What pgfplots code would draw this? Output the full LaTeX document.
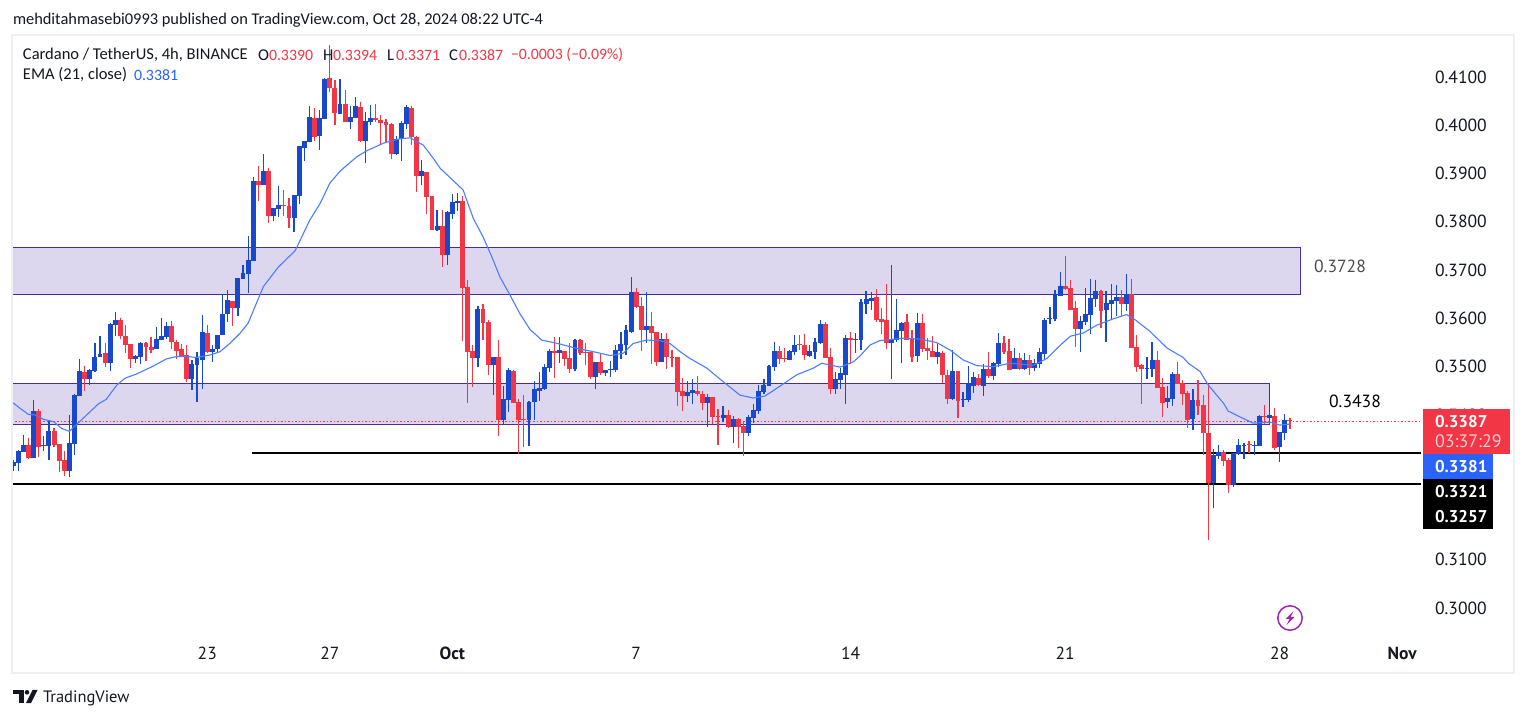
\documentclass[border=0pt]{standalone}
\usepackage{fontspec}
\usepackage{pgfplots}
\usepackage{pgfplotstable}
\pgfplotsset{compat=1.18}
\setmainfont{PT Sans}
\newfontfamily\hdr{Carlito}
\definecolor{upc}{HTML}{1848CC}
\definecolor{dnc}{HTML}{F23645}
\definecolor{emac}{HTML}{4A7DFF}
\definecolor{boxf}{HTML}{DCD7EE}
\definecolor{boxl}{HTML}{4A2BA0}
\definecolor{txt}{HTML}{131722}
\definecolor{frame}{HTML}{EFF0F6}
\definecolor{tagblue}{HTML}{2962FF}
\definecolor{purp}{HTML}{9C27B0}
\pgfplotstableread{
i o h l c
-1 0.3295 0.3306 0.3284 0.3303
0 0.3301 0.3327 0.3284 0.3325
1 0.3324 0.3358 0.3324 0.3338
2 0.3338 0.3352 0.3309 0.3310
3 0.3311 0.3431 0.3311 0.3408
4 0.3408 0.3412 0.3313 0.3334
5 0.3336 0.3356 0.3325 0.3338
6 0.3336 0.3387 0.3307 0.3367
7 0.3367 0.3372 0.3334 0.3338
8 0.3340 0.3340 0.3282 0.3305
9 0.3307 0.3325 0.3274 0.3284
10 0.3284 0.3400 0.3272 0.3342
11 0.3340 0.3443 0.3317 0.3441
12 0.3440 0.3516 0.3440 0.3491
13 0.3489 0.3501 0.3450 0.3474
14 0.3474 0.3495 0.3462 0.3493
15 0.3491 0.3548 0.3488 0.3520
16 0.3519 0.3563 0.3519 0.3526
17 0.3528 0.3548 0.3500 0.3508
18 0.3508 0.3591 0.3490 0.3588
19 0.3587 0.3613 0.3563 0.3597
20 0.3597 0.3601 0.3557 0.3563
21 0.3563 0.3586 0.3529 0.3545
22 0.3547 0.3547 0.3497 0.3516
23 0.3516 0.3524 0.3508 0.3522
24 0.3521 0.3551 0.3505 0.3549
25 0.3549 0.3551 0.3512 0.3541
26 0.3541 0.3561 0.3529 0.3535
27 0.3537 0.3582 0.3537 0.3557
28 0.3555 0.3601 0.3555 0.3563
29 0.3562 0.3593 0.3558 0.3584
30 0.3584 0.3595 0.3537 0.3551
31 0.3551 0.3555 0.3516 0.3533
32 0.3537 0.3547 0.3519 0.3521
33 0.3524 0.3545 0.3469 0.3474
34 0.3474 0.3514 0.3452 0.3505
35 0.3503 0.3530 0.3427 0.3518
36 0.3514 0.3607 0.3454 0.3572
37 0.3570 0.3586 0.3528 0.3530
38 0.3530 0.3545 0.3510 0.3537
39 0.3536 0.3566 0.3528 0.3566
40 0.3565 0.3650 0.3565 0.3610
41 0.3609 0.3659 0.3593 0.3638
42 0.3636 0.3636 0.3584 0.3621
43 0.3621 0.3684 0.3605 0.3684
44 0.3682 0.3711 0.3682 0.3694
45 0.3692 0.3771 0.3653 0.3721
46 0.3719 0.3892 0.3719 0.3885
47 0.3885 0.3916 0.3843 0.3876
48 0.3876 0.3940 0.3876 0.3905
49 0.3905 0.3911 0.3798 0.3812
50 0.3812 0.3829 0.3802 0.3829
51 0.3827 0.3874 0.3809 0.3835
52 0.3835 0.3866 0.3812 0.3833
53 0.3833 0.3849 0.3787 0.3808
54 0.3808 0.3856 0.3779 0.3856
55 0.3853 0.3957 0.3837 0.3957
56 0.3953 0.3967 0.3926 0.3967
57 0.3965 0.4040 0.3965 0.4017
58 0.4015 0.4036 0.3967 0.3976
59 0.3978 0.4032 0.3949 0.4015
60 0.4013 0.4099 0.4013 0.4096
61 0.4098 0.4166 0.4069 0.4077
62 0.4077 0.4094 0.4000 0.4025
63 0.4023 0.4096 0.4023 0.4044
64 0.4044 0.4073 0.4007 0.4007
65 0.4007 0.4040 0.3992 0.4017
66 0.4015 0.4059 0.4015 0.4040
67 0.4038 0.4048 0.3965 0.3967
68 0.3967 0.4028 0.3922 0.4009
69 0.4007 0.4042 0.4000 0.4015
70 0.4015 0.4044 0.4007 0.4011
71 0.4011 0.4021 0.3959 0.4005
72 0.4007 0.4012 0.3963 0.4000
73 0.4003 0.4004 0.3930 0.3941
74 0.3941 0.3978 0.3938 0.3972
75 0.3972 0.4009 0.3926 0.4005
76 0.4003 0.4042 0.3992 0.4038
77 0.4036 0.4040 0.3959 0.3976
78 0.3976 0.3978 0.3862 0.3895
79 0.3895 0.3928 0.3876 0.3905
80 0.3903 0.3904 0.3816 0.3851
81 0.3853 0.3853 0.3783 0.3783
82 0.3783 0.3824 0.3781 0.3791
83 0.3791 0.3825 0.3706 0.3731
84 0.3731 0.3822 0.3711 0.3820
85 0.3816 0.3858 0.3806 0.3841
86 0.3839 0.3860 0.3822 0.3843
87 0.3843 0.3854 0.3553 0.3663
88 0.3665 0.3680 0.3425 0.3530
89 0.3532 0.3545 0.3458 0.3518
90 0.3518 0.3626 0.3499 0.3619
91 0.3619 0.3630 0.3555 0.3590
92 0.3592 0.3597 0.3483 0.3503
93 0.3503 0.3520 0.3441 0.3520
94 0.3520 0.3555 0.3356 0.3389
95 0.3389 0.3459 0.3381 0.3433
96 0.3431 0.3497 0.3406 0.3493
97 0.3491 0.3493 0.3425 0.3425
98 0.3427 0.3433 0.3319 0.3389
99 0.3391 0.3441 0.3334 0.3389
100 0.3389 0.3429 0.3336 0.3427
101 0.3427 0.3470 0.3389 0.3454
102 0.3450 0.3489 0.3429 0.3456
103 0.3454 0.3505 0.3452 0.3499
104 0.3497 0.3537 0.3489 0.3532
105 0.3532 0.3561 0.3476 0.3528
106 0.3528 0.3561 0.3508 0.3534
107 0.3532 0.3532 0.3501 0.3516
108 0.3518 0.3549 0.3487 0.3495
109 0.3495 0.3557 0.3491 0.3555
110 0.3555 0.3557 0.3524 0.3528
111 0.3530 0.3549 0.3503 0.3528
112 0.3530 0.3530 0.3474 0.3479
113 0.3479 0.3510 0.3454 0.3510
114 0.3510 0.3527 0.3483 0.3487
115 0.3487 0.3493 0.3481 0.3493
116 0.3493 0.3512 0.3479 0.3495
117 0.3493 0.3545 0.3489 0.3534
118 0.3532 0.3572 0.3516 0.3547
119 0.3545 0.3586 0.3524 0.3576
120 0.3572 0.3686 0.3570 0.3655
121 0.3655 0.3663 0.3622 0.3624
122 0.3626 0.3644 0.3532 0.3576
123 0.3576 0.3655 0.3549 0.3584
124 0.3584 0.3613 0.3506 0.3570
125 0.3572 0.3572 0.3501 0.3510
126 0.3510 0.3570 0.3510 0.3557
127 0.3557 0.3570 0.3495 0.3520
128 0.3520 0.3535 0.3499 0.3519
129 0.3520 0.3520 0.3419 0.3448
130 0.3450 0.3477 0.3408 0.3439
131 0.3439 0.3470 0.3427 0.3448
132 0.3445 0.3474 0.3423 0.3452
133 0.3450 0.3481 0.3439 0.3443
134 0.3443 0.3450 0.3410 0.3425
135 0.3425 0.3443 0.3375 0.3437
136 0.3437 0.3437 0.3381 0.3396
137 0.3398 0.3412 0.3338 0.3396
138 0.3394 0.3419 0.3385 0.3400
139 0.3400 0.3410 0.3373 0.3375
140 0.3375 0.3398 0.3342 0.3392
141 0.3392 0.3394 0.3331 0.3375
142 0.3377 0.3387 0.3315 0.3363
143 0.3363 0.3400 0.3356 0.3396
144 0.3394 0.3423 0.3383 0.3410
145 0.3408 0.3462 0.3402 0.3450
146 0.3448 0.3474 0.3443 0.3462
147 0.3460 0.3503 0.3460 0.3501
148 0.3499 0.3551 0.3491 0.3532
149 0.3532 0.3543 0.3506 0.3516
150 0.3518 0.3539 0.3510 0.3516
151 0.3514 0.3535 0.3514 0.3532
152 0.3530 0.3566 0.3524 0.3545
153 0.3547 0.3566 0.3535 0.3545
154 0.3545 0.3568 0.3514 0.3524
155 0.3522 0.3545 0.3520 0.3532
156 0.3530 0.3559 0.3516 0.3551
157 0.3549 0.3597 0.3547 0.3588
158 0.3588 0.3593 0.3518 0.3518
159 0.3520 0.3539 0.3443 0.3454
160 0.3454 0.3489 0.3443 0.3474
161 0.3472 0.3497 0.3454 0.3487
162 0.3483 0.3566 0.3423 0.3559
163 0.3559 0.3572 0.3506 0.3555
164 0.3555 0.3570 0.3528 0.3557
165 0.3555 0.3640 0.3534 0.3634
166 0.3630 0.3657 0.3609 0.3640
167 0.3636 0.3655 0.3617 0.3642
168 0.3644 0.3661 0.3593 0.3597
169 0.3599 0.3622 0.3568 0.3593
170 0.3597 0.3671 0.3537 0.3549
171 0.3549 0.3711 0.3474 0.3557
172 0.3555 0.3640 0.3551 0.3576
173 0.3574 0.3592 0.3508 0.3590
174 0.3592 0.3609 0.3555 0.3555
175 0.3557 0.3576 0.3510 0.3520
176 0.3522 0.3611 0.3510 0.3590
177 0.3590 0.3609 0.3530 0.3537
178 0.3539 0.3559 0.3514 0.3532
179 0.3532 0.3563 0.3520 0.3520
180 0.3520 0.3549 0.3505 0.3530
181 0.3528 0.3532 0.3466 0.3483
182 0.3483 0.3493 0.3423 0.3433
183 0.3433 0.3534 0.3431 0.3491
184 0.3491 0.3491 0.3394 0.3429
185 0.3431 0.3447 0.3416 0.3433
186 0.3431 0.3501 0.3427 0.3465
187 0.3460 0.3489 0.3445 0.3479
188 0.3476 0.3485 0.3460 0.3462
189 0.3460 0.3505 0.3439 0.3495
190 0.3495 0.3530 0.3476 0.3481
191 0.3481 0.3510 0.3472 0.3508
192 0.3505 0.3570 0.3499 0.3549
193 0.3549 0.3563 0.3526 0.3530
194 0.3532 0.3557 0.3493 0.3493
195 0.3495 0.3539 0.3495 0.3518
196 0.3518 0.3528 0.3493 0.3495
197 0.3495 0.3528 0.3493 0.3514
198 0.3514 0.3524 0.3483 0.3497
199 0.3497 0.3516 0.3491 0.3508
200 0.3505 0.3539 0.3497 0.3530
201 0.3526 0.3601 0.3516 0.3597
202 0.3599 0.3624 0.3588 0.3601
203 0.3599 0.3659 0.3595 0.3651
204 0.3646 0.3696 0.3646 0.3667
205 0.3667 0.3729 0.3659 0.3661
206 0.3663 0.3680 0.3617 0.3617
207 0.3622 0.3636 0.3541 0.3578
208 0.3578 0.3605 0.3530 0.3595
209 0.3593 0.3663 0.3586 0.3609
210 0.3607 0.3682 0.3568 0.3642
211 0.3640 0.3680 0.3624 0.3657
212 0.3657 0.3659 0.3580 0.3615
213 0.3617 0.3657 0.3551 0.3632
214 0.3630 0.3671 0.3599 0.3638
215 0.3636 0.3669 0.3605 0.3644
216 0.3644 0.3659 0.3605 0.3630
217 0.3630 0.3692 0.3615 0.3650
218 0.3650 0.3682 0.3539 0.3539
219 0.3541 0.3566 0.3489 0.3499
220 0.3503 0.3506 0.3423 0.3495
221 0.3496 0.3520 0.3474 0.3497
222 0.3495 0.3551 0.3479 0.3514
223 0.3514 0.3532 0.3456 0.3456
224 0.3458 0.3477 0.3396 0.3425
225 0.3427 0.3460 0.3414 0.3435
226 0.3433 0.3489 0.3419 0.3485
227 0.3485 0.3510 0.3464 0.3464
228 0.3466 0.3472 0.3421 0.3443
229 0.3445 0.3450 0.3373 0.3389
230 0.3392 0.3454 0.3369 0.3431
231 0.3431 0.3472 0.3400 0.3419
232 0.3421 0.3441 0.3317 0.3363
233 0.3363 0.3464 0.3141 0.3259
234 0.3259 0.3329 0.3207 0.3317
235 0.3315 0.3338 0.3309 0.3323
236 0.3323 0.3327 0.3294 0.3305
237 0.3307 0.3311 0.3238 0.3255
238 0.3255 0.3321 0.3251 0.3321
239 0.3319 0.3350 0.3317 0.3338
240 0.3336 0.3342 0.3309 0.3338
241 0.3340 0.3346 0.3321 0.3338
242 0.3336 0.3346 0.3317 0.3338
243 0.3336 0.3400 0.3336 0.3398
244 0.3398 0.3421 0.3381 0.3396
245 0.3394 0.3421 0.3379 0.3400
246 0.3398 0.3414 0.3327 0.3331
247 0.3333 0.3365 0.3302 0.3365
248 0.3363 0.3402 0.3348 0.3389
249 0.3390 0.3394 0.3371 0.3387
}\candles
\pgfplotstableread{
i v
-1 0.3425
0.3 0.3414
2 0.3401
3.3 0.3400
4.9 0.3391
6.9 0.3386
8.5 0.3372
10 0.3366
11.7 0.3383
13.7 0.3403
15.7 0.3423
17.2 0.3432
19.3 0.3462
20.9 0.3476
23.2 0.3485
26.4 0.3501
29 0.3516
31 0.3521
33 0.3521
34.9 0.3519
37.5 0.3524
39.5 0.3531
41.4 0.3548
43.4 0.3569
45 0.3590
48 0.3666
50.9 0.3706
54.2 0.3740
57.1 0.3804
59.1 0.3838
61 0.3880
63 0.3905
66.3 0.3935
68.2 0.3947
71.5 0.3963
74.7 0.3972
76.7 0.3974
79.3 0.3959
81.3 0.3931
82.6 0.3911
87.1 0.3866
89.1 0.3807
91 0.3769
92.7 0.3728
94.3 0.3686
96.3 0.3648
98.2 0.3610
100.2 0.3577
102.5 0.3555
106 0.3547
109.3 0.3538
112.6 0.3531
115.9 0.3523
118.5 0.3528
120.4 0.3548
123 0.3555
125.7 0.3554
127.6 0.3548
129.6 0.3531
131.5 0.3517
134.8 0.3497
138 0.3469
141.3 0.3441
143.9 0.3435
146.2 0.3439
148.5 0.3455
152.4 0.3483
155.7 0.3497
157.3 0.3507
160.9 0.3499
163.5 0.3510
164.8 0.3522
166.8 0.3545
168.7 0.3554
173.3 0.3559
176.6 0.3557
179.8 0.3550
182.5 0.3534
185 0.3514
187.7 0.3502
191 0.3500
194.2 0.3507
198.8 0.3503
201.4 0.3517
204.1 0.3545
206 0.3563
208.6 0.3570
211.2 0.3586
214.4 0.3599
217 0.3608
218.7 0.3597
221.6 0.3573
225 0.3538
228.1 0.3519
229.1 0.3507
231.4 0.3490
233 0.3462
236 0.3424
236.9 0.3408
239.2 0.3396
241.8 0.3383
245.1 0.3385
247 0.3379
249 0.3381
}\ema
\begin{document}
\begin{tikzpicture}
\useasboundingbox (0,0) rectangle (1527pt,718pt);
\fill[white] (0,0) rectangle (1527pt,718pt);
\begin{scope}[x=1pt,y=-1pt,yshift=718pt]
\draw[frame,line width=2pt] (12,35) rectangle (1514,673);
\end{scope}
\begin{axis}[
  at={(13pt,46pt)},anchor=south west,
  scale only axis,width=1500pt,height=636pt,
  xmin=-1.038,xmax=292.68,ymin=0.28674,ymax=0.41850,
  axis line style={draw=none},
  major tick length=0pt,
  xtick={37,61,85,121,163,205,247,271},
  xticklabels={23,27,\textbf{Oct},7,14,21,28,\textbf{Nov}},
  xticklabel style={font=\fontsize{17.5}{18}\selectfont,text=txt,anchor=center,yshift=19pt},
  ytick={0.30,0.31,0.34,0.35,0.36,0.37,0.38,0.39,0.40,0.41},
  yticklabel pos=right,
  scaled y ticks=false,
  yticklabel style={font=\fontsize{17.6}{18}\selectfont,text=txt,anchor=east,xshift=-26pt,inner sep=0pt,
    /pgf/number format/.cd,fixed,fixed zerofill,precision=4,assume math mode=true},
]
% supply zones
\addplot[fill=boxf,draw=boxl,line width=1pt] coordinates {(-2,0.3650)(251.16,0.3650)(251.16,0.3747)(-2,0.3747)} -- cycle;
\addplot[fill=boxf,draw=boxl,line width=1pt] coordinates {(-2,0.3380)(244.9,0.3380)(244.9,0.34655)(-2,0.34655)} -- cycle;
% levels
\addplot[black,line width=2pt] coordinates {(45.76,0.3321)(274.66,0.3321)};
\addplot[black,line width=2pt] coordinates {(-2,0.3257)(274.66,0.3257)};
\addplot[dnc,line width=1pt,dash pattern=on 1.5pt off 2pt] coordinates {(-2,0.3387)(274.66,0.3387)};
% wicks
\addplot[draw=none,forget plot,error bars/.cd,y dir=plus,y explicit,error mark=none,
  error bar style={upc,line width=1.2pt,line cap=butt}]
  table[x=i,y expr={\thisrow{c}>=\thisrow{o}?\thisrow{l}:nan},y error plus expr={\thisrow{h}-\thisrow{l}}] {\candles};
\addplot[draw=none,forget plot,error bars/.cd,y dir=plus,y explicit,error mark=none,
  error bar style={dnc,line width=1.2pt,line cap=butt}]
  table[x=i,y expr={\thisrow{c}<\thisrow{o}?\thisrow{l}:nan},y error plus expr={\thisrow{h}-\thisrow{l}}] {\candles};
% bodies
\addplot[draw=none,forget plot,error bars/.cd,y dir=plus,y explicit,error mark=none,
  error bar style={upc,line width=4.9pt,line cap=butt}]
  table[x=i,y expr={\thisrow{c}>=\thisrow{o}?\thisrow{o}:nan},y error plus expr={\thisrow{c}-\thisrow{o}}] {\candles};
\addplot[draw=none,forget plot,error bars/.cd,y dir=plus,y explicit,error mark=none,
  error bar style={dnc,line width=4.9pt,line cap=butt}]
  table[x=i,y expr={\thisrow{c}<\thisrow{o}?\thisrow{c}:nan},y error plus expr={\thisrow{o}-\thisrow{c}}] {\candles};
% EMA
\addplot[emac,line width=1.1pt,line join=round] table[x=i,y=v] {\ema};
\end{axis}
\begin{scope}[x=1pt,y=-1pt,yshift=718pt,every node/.style={inner sep=0pt,outer sep=0pt}]
\def\sz{\fontsize{15.8}{18}\selectfont}
\def\sl{\fontsize{16.5}{18}\selectfont}
\node[anchor=west,text=txt,font=\hdr\fontsize{16.4}{18}\selectfont] at (13,20) {mehditahmasebi0993 published on TradingView.com, Oct 28, 2024 08:22 UTC-4};
\node[anchor=west,text=txt,font=\hdr\sl] at (23,55) {Cardano / TetherUS, 4h, BINANCE};
\node[anchor=west,text=txt,font=\hdr\sl] at (258,55) {O};
\node[anchor=west,text=dnc,font=\hdr\sz] at (269,55) {0.3390};
\node[anchor=west,text=txt,font=\hdr\sl] at (323,55) {H};
\node[anchor=west,text=dnc,font=\hdr\sz] at (333,55) {0.3394};
\node[anchor=west,text=txt,font=\hdr\sl] at (387,55) {L};
\node[anchor=west,text=dnc,font=\hdr\sz] at (396,55) {0.3371};
\node[anchor=west,text=txt,font=\hdr\sl] at (449,55) {C};
\node[anchor=west,text=dnc,font=\hdr\sz] at (459,55) {0.3387};
\node[anchor=west,text=dnc,font=\hdr\sz] at (511,55) {−0.0003 (−0.09\%)};
\node[anchor=west,text=txt,font=\hdr\sl] at (23,75) {EMA (21, close)};
\node[anchor=west,text=tagblue,font=\hdr\sz] at (134,75) {0.3381};
% annotations
\node[text=black!70,font=\fontsize{17.6}{18}\selectfont] at (1340,266) {0.3728};
\node[text=black,font=\fontsize{17.6}{18}\selectfont] at (1355,401) {0.3438};
% price tags
\fill[black] (1423,479) rectangle (1493,529);
\fill[tagblue] (1423,454) rectangle (1493,479);
\fill[dnc] (1423,409) rectangle (1510,454);
\node[anchor=west,text=white,font=\bfseries\fontsize{17}{18}\selectfont] at (1435,422) {0.3387};
\node[anchor=west,text=white!75!dnc,font=\fontsize{18}{18}\selectfont] at (1435,441) {03:37:29};
\node[anchor=west,text=white,font=\bfseries\fontsize{17}{18}\selectfont] at (1435,467) {0.3381};
\node[anchor=west,text=white,font=\bfseries\fontsize{17}{18}\selectfont] at (1435,492) {0.3321};
\node[anchor=west,text=white,font=\bfseries\fontsize{17}{18}\selectfont] at (1435,517) {0.3257};
% lightning icon
\draw[purp,line width=1.5pt] (1290,618) circle (12.2);
\fill[purp] (1293.5,611) -- (1285.5,619) -- (1289.5,619) -- (1286.5,625) -- (1294.5,617) -- (1290.5,617) -- cycle;
% logo
\fill[txt] (13,690) rectangle (24,694.5);
\fill[txt] (18.5,694) rectangle (24,703);
\fill[txt] (27,692.3) circle (2.3);
\fill[txt] (32.5,690) -- (37.5,690) -- (31,703) -- (26,703) -- cycle;
\node[anchor=west,text=txt,font=\fontsize{16.5}{18}\selectfont] at (43,698) {TradingView};
\end{scope}
\end{tikzpicture}
\end{document}
